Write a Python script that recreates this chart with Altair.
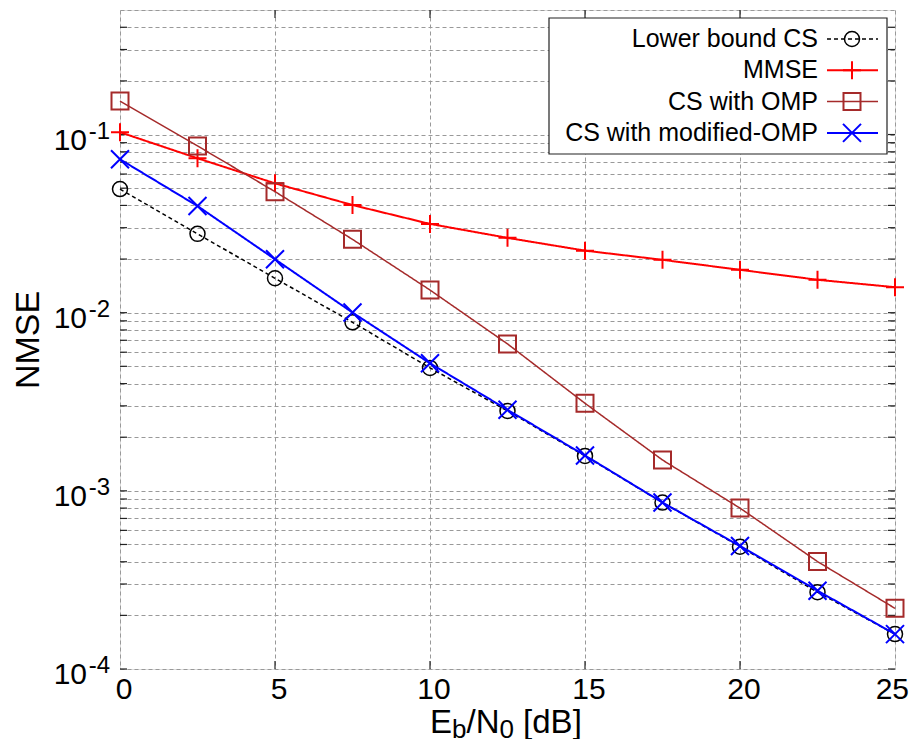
import altair as alt
import pandas as pd

# ---------------- data ----------------
snr_db = [0, 2.5, 5, 7.5, 10, 12.5, 15, 17.5, 20, 22.5, 25]
lower_bound_cs = [0.0494, 0.0277, 0.0156, 0.00883, 0.0049, 0.00281, 0.00157, 0.000859, 0.000486, 0.00027, 0.000157]
mmse = [0.103, 0.0736, 0.0532, 0.0402, 0.0315, 0.0263, 0.0223, 0.0198, 0.0174, 0.0153, 0.0139]
cs_omp = [0.154, 0.0863, 0.0478, 0.0258, 0.0134, 0.00668, 0.0031, 0.00149, 0.0008, 0.000401, 0.000219]
cs_mod_omp = [0.0726, 0.0397, 0.01995, 0.01002, 0.0052, 0.00285, 0.00158, 0.00086, 0.00049, 0.000275, 0.000157]

series_names = ["Lower bound CS", "MMSE", "CS with OMP", "CS with modified-OMP"]
series_values = [lower_bound_cs, mmse, cs_omp, cs_mod_omp]

x_ticks = [0, 5, 10, 15, 20, 25]
x_tick_labels = ["0", "5", "10", "15", "20", "25"]
x_inner_ticks = [5, 10, 15, 20]
y_grid = [1e-4, 2e-4, 3e-4, 4e-4, 5e-4, 6e-4, 7e-4, 8e-4, 9e-4,
          1e-3, 2e-3, 3e-3, 4e-3, 5e-3, 6e-3, 7e-3, 8e-3, 9e-3,
          1e-2, 2e-2, 3e-2, 4e-2, 5e-2, 6e-2, 7e-2, 8e-2, 9e-2,
          1e-1, 2e-1, 3e-1, 4e-1, 5e-1]
y_decades = [1e-4, 1e-3, 1e-2, 1e-1]
y_decade_exp = ["-4", "-3", "-2", "-1"]

# ---------------- styles ----------------
FONT = "Liberation Sans"
PLUS = "M-1,0L1,0M0,-1L0,1"
CROSS = "M-1,-1L1,1M-1,1L1,-1"
colors = ["#000000", "#ff0000", "#a52a2a", "#0000ff"]
dashes = [[4, 3], [1, 0], [1, 0], [1, 0]]
widths = [1.5, 2, 1.5, 2]
shapes = ["circle", PLUS, "square", CROSS]
sizes = [225, 324, 289, 324]
pt_widths = [1.5, 2, 2, 2]

W, H = 775, 659

X = alt.X("snr:Q", scale=alt.Scale(domain=[0, 25], nice=False, zero=False),
          axis=alt.Axis(values=x_ticks, title=None, grid=True, gridDash=[4, 3],
                        gridColor="#999999", gridWidth=1, ticks=False, domain=False,
                        labels=False))
Y = alt.Y("nmse:Q", scale=alt.Scale(type="log", domain=[1e-4, 0.5], nice=False),
          axis=alt.Axis(values=y_grid, title=None, grid=True, gridDash=[4, 3],
                        gridColor="#999999", gridWidth=1, ticks=False, domain=False,
                        labels=False))

rows = []
for name, vals in zip(series_names, series_values):
    for s, v in zip(snr_db, vals):
        rows.append({"series": name, "snr": s, "nmse": v})
df = pd.DataFrame(rows)

layers = []
# inward ticks (gnuplot style)
xt = pd.DataFrame({"snr": x_inner_ticks})
layers.append(alt.Chart(xt).mark_rule(color="#222222", strokeWidth=1.2).encode(
    x=X, y=alt.value(H), y2=alt.value(H - 8)))
layers.append(alt.Chart(xt).mark_rule(color="#222222", strokeWidth=1.2).encode(
    x=X, y=alt.value(0), y2=alt.value(8)))
yt = pd.DataFrame({"nmse": y_grid[:-1]})
layers.append(alt.Chart(yt).mark_rule(color="#222222", strokeWidth=1.2).encode(
    y=Y, x=alt.value(0), x2=alt.value(7)))
layers.append(alt.Chart(yt).mark_rule(color="#222222", strokeWidth=1.2).encode(
    y=Y, x=alt.value(W - 7), x2=alt.value(W)))

for i, name in enumerate(series_names):
    sub = df[df["series"] == name]
    base = alt.Chart(sub)
    layers.append(base.mark_line(color=colors[i], strokeWidth=widths[i],
                                 strokeDash=dashes[i]).encode(x=X, y=Y))
    layers.append(base.mark_point(shape=shapes[i], size=sizes[i], filled=False,
                                  color=colors[i], strokeWidth=pt_widths[i],
                                  opacity=1).encode(x=X, y=Y))

# x tick labels (last one pulled in so it stays inside the page)
xlab = pd.DataFrame({"snr": x_ticks[:-1], "lab": x_tick_labels[:-1]})
layers.append(alt.Chart(xlab).mark_text(align="center", baseline="alphabetic", dx=4,
                                        fontSize=30, font=FONT, color="#000000").encode(
    x=X, y=alt.value(H + 30), text="lab:N"))
xlab_last = pd.DataFrame({"snr": x_ticks[-1:], "lab": x_tick_labels[-1:]})
layers.append(alt.Chart(xlab_last).mark_text(align="right", baseline="alphabetic", dx=14,
                                             fontSize=30, font=FONT, color="#000000").encode(
    x=X, y=alt.value(H + 30), text="lab:N"))

# y tick labels: 10 with superscript exponent
ylab = pd.DataFrame({"nmse": y_decades, "base": ["10"] * 4, "sup": y_decade_exp})
layers.append(alt.Chart(ylab).mark_text(align="right", baseline="middle", dy=6,
                                        fontSize=30, font=FONT, color="#000000").encode(
    y=Y, x=alt.value(-33), text="base:N"))
layers.append(alt.Chart(ylab).mark_text(align="right", baseline="alphabetic", dy=4,
                                        fontSize=24, font=FONT, color="#000000").encode(
    y=Y, x=alt.value(-10), text="sup:N"))

one = pd.DataFrame({"k": [0]})
# y title
layers.append(alt.Chart(one).mark_text(angle=270, align="center", baseline="middle",
                                       fontSize=34, font=FONT, color="#000000").encode(
    x=alt.value(-91), y=alt.value(330), text=alt.value("NMSE")))

# x title with subscripts: E_b/N_0 [dB]
adv = {"E": .667, "b": .556, "/": .278, "N": .722, "0": .556, " ": .278,
       "[": .278, "d": .556, "B": .667, "]": .278}
segments = [("E", 33, 0, 0), ("b", 26, 5, 0), ("/N", 33, 0, 0), ("0", 26, 5, 0), ("[dB]", 33, 0, 0.278 * 33)]
xpos = 310
for txt, fs, shift, gap in segments:
    xpos += gap
    layers.append(alt.Chart(one).mark_text(align="left", baseline="alphabetic",
                                           fontSize=fs, font=FONT, color="#000000").encode(
        x=alt.value(xpos), y=alt.value(723 + shift), text=alt.value(txt)))
    xpos += sum(adv[c] for c in txt) * fs

# legend box
layers.append(alt.Chart(one).mark_rect(fill="white", stroke="#222222", strokeWidth=1.2).encode(
    x=alt.value(429), x2=alt.value(767), y=alt.value(8), y2=alt.value(144)))
for i, name in enumerate(series_names):
    yy = 29 + i * 31.3
    layers.append(alt.Chart(one).mark_text(align="right", baseline="middle", fontSize=25,
                                           font=FONT, color="#000000").encode(
        x=alt.value(698), y=alt.value(yy), text=alt.value(name)))
    layers.append(alt.Chart(one).mark_rule(color=colors[i], strokeWidth=widths[i],
                                           strokeDash=dashes[i]).encode(
        x=alt.value(707), x2=alt.value(758), y=alt.value(yy)))
    layers.append(alt.Chart(one).mark_point(shape=shapes[i], size=sizes[i], filled=False,
                                            color=colors[i], strokeWidth=pt_widths[i],
                                            opacity=1).encode(
        x=alt.value(732), y=alt.value(yy)))

chart = alt.layer(*layers).properties(
    width=W, height=H,
    autosize=alt.AutoSizeParams(type="none"),
    padding={"left": 112, "top": 2, "right": 15, "bottom": 70},
    background="white",
).configure_view(stroke="#222222", strokeWidth=2).configure(font=FONT)

chart.save("out.html", embed_options={"renderer": "svg", "actions": False})
